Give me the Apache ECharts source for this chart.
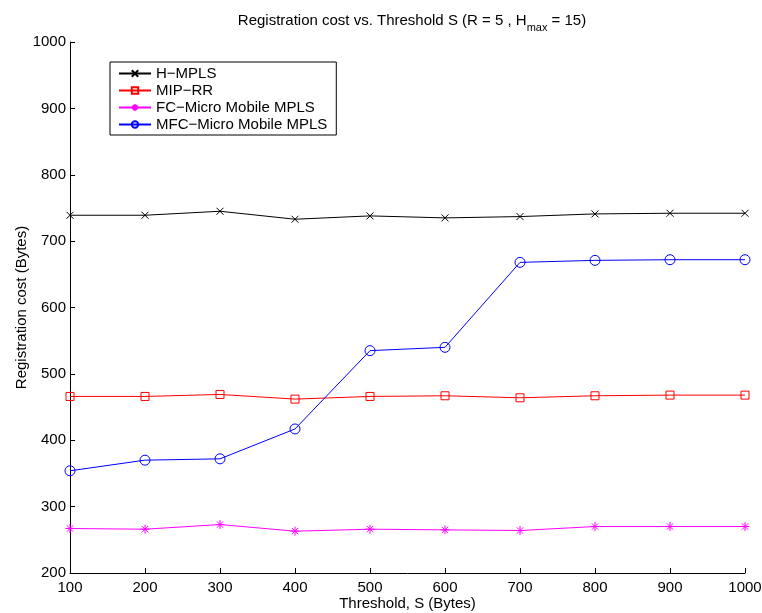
<!DOCTYPE html>
<html>
<head>
<meta charset="utf-8">
<script src="https://cdn.jsdelivr.net/npm/echarts@6/dist/echarts.min.js"></script>
<style>html,body{margin:0;padding:0;background:#fff}#c{width:762px;height:613px}</style>
</head>
<body>
<div id="c"></div>
<script>
var thresholds = [100, 200, 300, 400, 500, 600, 700, 800, 900, 1000];
var hMpls = [739, 739, 745, 733, 738, 735, 737, 741, 742, 742];
var mipRR = [466, 466, 469, 462, 466, 467, 464, 467, 468, 468];
var fcMicro = [267, 266, 273, 263, 266, 265, 264, 270, 270, 270];
var mfcMicro = [354, 370, 372, 417, 535, 540, 668, 671, 672, 672];
var seriesNames = ['H\u2212MPLS', 'MIP\u2212RR', 'FC\u2212Micro Mobile MPLS', 'MFC\u2212Micro Mobile MPLS'];

function pairs(vals) { return thresholds.map(function (t, i) { return [t, vals[i]]; }); }

var FONT = 'Liberation Sans, Arial, Helvetica, sans-serif';
var FS = 15;
var xPath = 'path://M0,0L10,10M10,0L0,10';
var starPath = 'path://M5,0L5,10M0,5L10,5M1.5,1.5L8.5,8.5M8.5,1.5L1.5,8.5';

function mkSeries(name, vals, color, symbol, size) {
  return {
    name: name, type: 'line', data: pairs(vals), symbol: symbol, symbolSize: size,
    showAllSymbol: true, animation: false,
    lineStyle: { color: color, width: 1 },
    itemStyle: { color: 'none', borderColor: color, borderWidth: 1 },
    emphasis: { disabled: true }
  };
}

var chart = echarts.init(document.getElementById('c'), null, { renderer: 'canvas' });
chart.setOption({
  backgroundColor: '#fff',
  animation: false,
  textStyle: { fontFamily: FONT },
  title: {
    text: 'Registration cost vs. Threshold S (R = 5 , H{sub|max} = 15)',
    left: 407, top: 3, textAlign: 'center',
    textStyle: {
      fontFamily: FONT, fontSize: FS, fontWeight: 'normal', color: '#000',
      rich: { sub: { fontFamily: FONT, fontSize: 11, color: '#000', verticalAlign: 'bottom', padding: [14, 0, 0, 0] } }
    }
  },
  grid: { left: 70, right: 17, top: 42, bottom: 40, containLabel: false, outerBoundsMode: 'none' },
  legend: {
    orient: 'vertical', left: 110, top: 62,
    padding: [3, 9, 2, 8], itemGap: 0, itemWidth: 32, itemHeight: 8,
    borderColor: '#000', borderWidth: 1, backgroundColor: '#fff',
    textStyle: { fontFamily: FONT, fontSize: FS, color: '#000', lineHeight: 17 },
    data: seriesNames
  },
  xAxis: {
    type: 'value', min: 100, max: 1000, interval: 100,
    name: 'Threshold, S (Bytes)', nameLocation: 'middle', nameGap: 23, nameMoveOverlap: false,
    nameTextStyle: { fontFamily: FONT, fontSize: FS, color: '#000' },
    axisLine: { lineStyle: { color: '#000', width: 1 } },
    axisTick: { inside: true, length: 5, lineStyle: { color: '#000' } },
    axisLabel: { fontFamily: FONT, fontSize: FS, color: '#000', margin: 7, formatter: function (v) { return String(v); } },
    splitLine: { show: false }
  },
  yAxis: {
    type: 'value', min: 200, max: 1000, interval: 100,
    name: 'Registration cost (Bytes)', nameLocation: 'middle', nameGap: 41, nameMoveOverlap: false,
    nameTextStyle: { fontFamily: FONT, fontSize: FS, color: '#000' },
    axisLine: { show: true, lineStyle: { color: '#000', width: 1 } },
    axisTick: { show: true, inside: true, length: 5, lineStyle: { color: '#000' } },
    axisLabel: { fontFamily: FONT, fontSize: FS, color: '#000', margin: 4, formatter: function (v) { return String(v); } },
    splitLine: { show: false }
  },
  series: [
    mkSeries(seriesNames[0], hMpls, '#000000', xPath, 7),
    mkSeries(seriesNames[1], mipRR, '#ff0000', 'rect', 8),
    mkSeries(seriesNames[2], fcMicro, '#ff00ff', starPath, 9),
    mkSeries(seriesNames[3], mfcMicro, '#0000ff', 'circle', 10)
  ]
});
</script>
</body>
</html>
